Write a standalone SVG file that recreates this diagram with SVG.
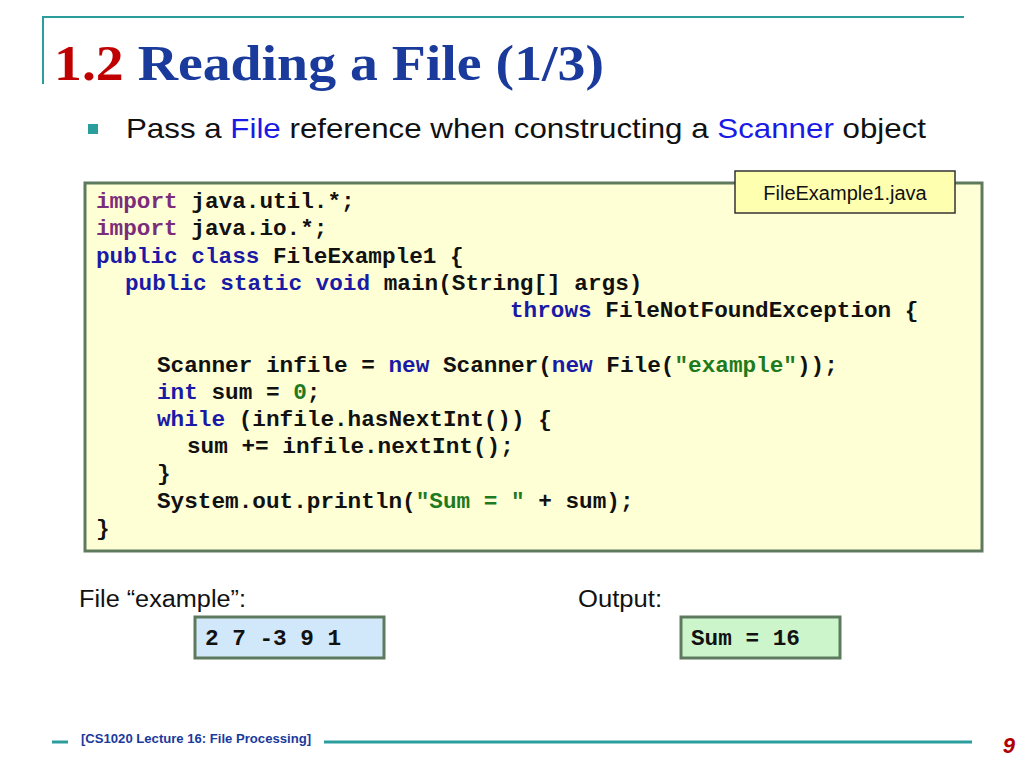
<svg xmlns="http://www.w3.org/2000/svg" width="1024" height="768" viewBox="0 0 1024 768">
<style>
.c{font-family:"Liberation Mono",monospace;font-weight:bold;font-size:22.7px;fill:#111}
.k{fill:#1a1aa6}.p{fill:#7b2d7b}.s{fill:#1e7a1e}
.sans{font-family:"Liberation Sans",Arial,sans-serif}
</style>
<rect width="1024" height="768" fill="#fff"/>
<line x1="42" y1="17" x2="964" y2="17" stroke="#2a9d9d" stroke-width="2"/>
<line x1="43" y1="17" x2="43" y2="84" stroke="#2a9d9d" stroke-width="2"/>
<text x="54" y="80" font-family="Liberation Serif,serif" font-weight="bold" font-size="50" fill="#1a3a9c" textLength="550" lengthAdjust="spacingAndGlyphs"><tspan fill="#c00000">1.2</tspan> Reading a File (1/3)</text>
<rect x="88" y="124" width="10" height="10" fill="#2a9d9d"/>
<text x="126" y="138" class="sans" font-size="28" fill="#111" textLength="800" lengthAdjust="spacingAndGlyphs">Pass a <tspan fill="#1a1ae6">File</tspan> reference when constructing a <tspan fill="#1a1ae6">Scanner</tspan> object</text>
<g id="code">
<rect x="85" y="183" width="897" height="368" fill="#ffffd6" stroke="#5e7a5e" stroke-width="3"/>
<text class="c" x="96" y="208"><tspan class="p">import</tspan> java.util.*;</text>
<text class="c" x="96" y="235"><tspan class="p">import</tspan> java.io.*;</text>
<text class="c" x="96" y="263"><tspan class="k">public class</tspan> FileExample1 {</text>
<text class="c" x="125" y="290"><tspan class="k">public static void</tspan> main(String[] args)</text>
<text class="c" x="510" y="317"><tspan class="k">throws</tspan> FileNotFoundException {</text>
<text class="c" x="157" y="372">Scanner infile = <tspan class="k">new</tspan> Scanner(<tspan class="k">new</tspan> File(<tspan class="s">"example"</tspan>));</text>
<text class="c" x="157" y="399"><tspan class="k">int</tspan> sum = <tspan class="s">0</tspan>;</text>
<text class="c" x="157" y="426"><tspan class="k">while</tspan> (infile.hasNextInt()) {</text>
<text class="c" x="187" y="453">sum += infile.nextInt();</text>
<text class="c" x="157" y="480">}</text>
<text class="c" x="157" y="508">System.out.println(<tspan class="s">"Sum = "</tspan> + sum);</text>
<text class="c" x="96" y="535">}</text>
</g>
<g id="filename">
<rect x="735" y="171" width="220" height="42" fill="#ffffb0" stroke="#333" stroke-width="1.5"/>
<text x="845" y="200" text-anchor="middle" class="sans" font-size="20" fill="#111">FileExample1.java</text>
</g>
<text x="79" y="607" class="sans" font-size="23" fill="#111" textLength="167" lengthAdjust="spacingAndGlyphs">File “example”:</text>
<text x="578" y="607" class="sans" font-size="23" fill="#111" textLength="84" lengthAdjust="spacingAndGlyphs">Output:</text>
<g id="input">
<rect x="195" y="617" width="189" height="41" fill="#d0e8fa" stroke="#5e7a5e" stroke-width="3"/>
<text class="c" x="205" y="645">2 7 -3 9 1</text>
</g>
<g id="output">
<rect x="681" y="617" width="159" height="41" fill="#ccf5cc" stroke="#5e7a5e" stroke-width="3"/>
<text class="c" x="691" y="645">Sum = 16</text>
</g>
<line x1="52" y1="742" x2="68" y2="742" stroke="#2a9d9d" stroke-width="3"/>
<text x="81" y="743" class="sans" font-size="12" font-weight="bold" fill="#1a3a9c" textLength="230" lengthAdjust="spacingAndGlyphs">[CS1020 Lecture 16: File Processing]</text>
<line x1="324" y1="742" x2="972" y2="742" stroke="#2a9d9d" stroke-width="3"/>
<text x="1015" y="753" text-anchor="end" class="sans" font-size="22" font-weight="bold" font-style="italic" fill="#b00000">9</text>
</svg>
